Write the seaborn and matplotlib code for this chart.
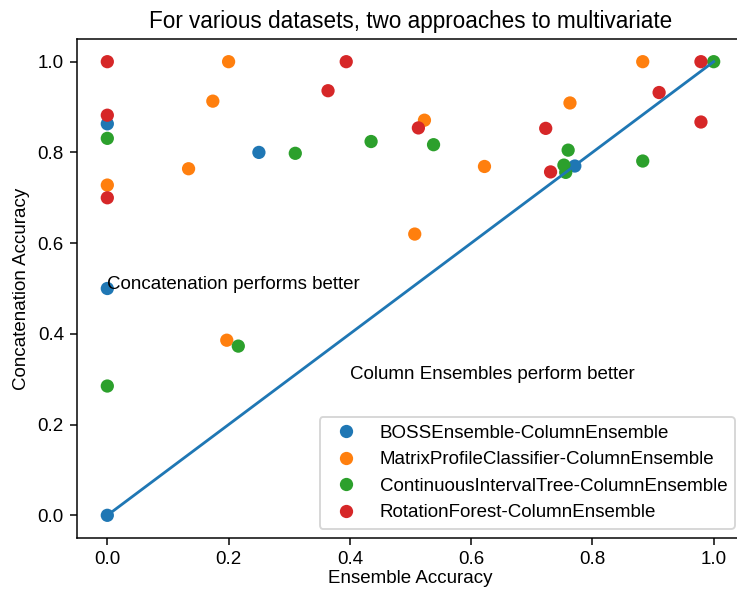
import matplotlib
matplotlib.use("Agg")
import matplotlib.pyplot as plt
import seaborn as sns
import pandas as pd

series_names = [
    "BOSSEnsemble-ColumnEnsemble",
    "MatrixProfileClassifier-ColumnEnsemble",
    "ContinuousIntervalTree-ColumnEnsemble",
    "RotationForest-ColumnEnsemble",
]

boss_x = [0.0, 0.25, 0.0, 0.0, 0.771]
boss_y = [0.863, 0.800, 0.500, 0.000, 0.770]

mpc_x = [0.200, 0.174, 0.134, 0.0, 0.197, 0.523, 0.622, 0.883, 0.763, 0.507]
mpc_y = [1.000, 0.913, 0.764, 0.728, 0.386, 0.871, 0.769, 1.000, 0.909, 0.620]

cit_x = [0.0, 0.216, 0.310, 0.435, 0.538, 1.000, 0.760, 0.753, 0.756, 0.883, 0.0]
cit_y = [0.831, 0.373, 0.798, 0.824, 0.817, 1.000, 0.805, 0.772, 0.756, 0.781, 0.285]

rotf_x = [0.0, 0.0, 0.0, 0.394, 0.364, 0.513, 0.979, 0.910, 0.979, 0.723, 0.731]
rotf_y = [1.000, 0.882, 0.700, 1.000, 0.936, 0.854, 1.000, 0.932, 0.867, 0.853, 0.757]

diag_x = [0.0, 1.0]
diag_y = [0.0, 1.0]

title = "For various datasets, two approaches to multivariate"
x_label = "Ensemble Accuracy"
y_label = "Concatenation Accuracy"
text_upper = "Concatenation performs better"
text_lower = "Column Ensembles perform better"

rows = []
for name, xs, ys in zip(series_names, [boss_x, mpc_x, cit_x, rotf_x], [boss_y, mpc_y, cit_y, rotf_y]):
    for xv, yv in zip(xs, ys):
        rows.append({"x": xv, "y": yv, "series": name})
df = pd.DataFrame(rows)

plt.rcParams["font.family"] = ["Liberation Sans", "DejaVu Sans"]

dpi = 135
fig = plt.figure(figsize=(737 / dpi, 591 / dpi), dpi=dpi)
W, H = 737, 591
left, right, top, bottom = 77, 744, 39, 538
ax = fig.add_axes([left / W, (H - bottom) / H, (right - left) / W, (bottom - top) / H])

palette = ["#1f77b4", "#ff7f0e", "#2ca02c", "#d62728"]
sns.scatterplot(data=df, x="x", y="y", hue="series", hue_order=series_names,
                palette=palette, s=50, linewidth=0, edgecolor="none", ax=ax, zorder=2)
sns.lineplot(x=diag_x, y=diag_y, color="#1f77b4", linewidth=1.5, ax=ax, zorder=3)

ax.text(0.0, 0.5, text_upper, fontsize=10)
ax.text(0.4, 0.3, text_lower, fontsize=10)

ax.set_xlim(-0.05, 1.05)
ax.set_ylim(-0.05, 1.05)
ax.set_xticks([0.0, 0.2, 0.4, 0.6, 0.8, 1.0])
ax.set_yticks([0.0, 0.2, 0.4, 0.6, 0.8, 1.0])
ax.set_title(title, fontsize=12)
ax.set_xlabel(x_label, labelpad=1)
ax.set_ylabel(y_label)

handles, labels = ax.get_legend_handles_labels()
ax.legend(handles[:4], labels[:4], loc="lower right", title=None)

fig.savefig("out.png", dpi=dpi)
